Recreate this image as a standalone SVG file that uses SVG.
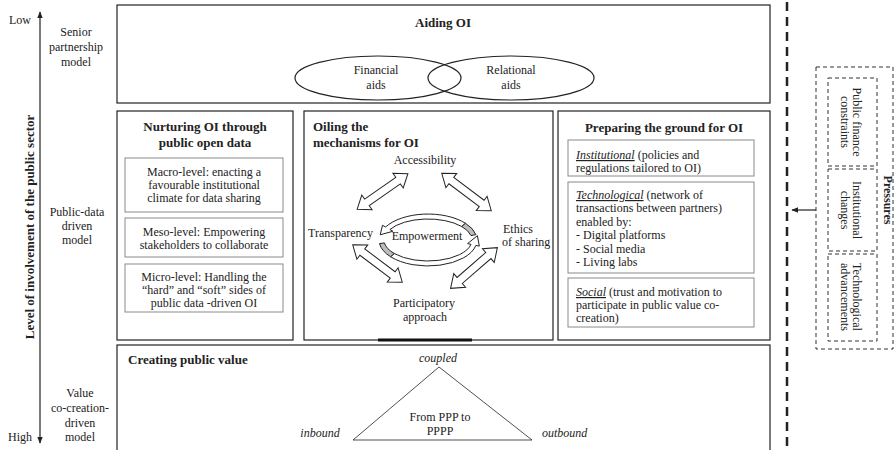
<svg xmlns="http://www.w3.org/2000/svg" xmlns:xlink="http://www.w3.org/1999/xlink" width="894" height="450" viewBox="0 0 894 450">
<style>
.t{font-family:"Liberation Serif","Times New Roman",serif;font-size:12px;fill:#222}
.b{font-weight:bold;font-size:13px}
.i{font-style:italic}
.u{font-style:italic;text-decoration:underline}
.m{text-anchor:middle}
.box{fill:#fff;stroke:#222;stroke-width:1.2}
.sub{fill:none;stroke:#8a8a8a;stroke-width:1}
.dash{fill:none;stroke:#333;stroke-width:1;stroke-dasharray:4 3}
.arr{fill:#fff;stroke:#222;stroke-width:1}
.gray{fill:#bdbdbd;stroke:#222;stroke-width:1}
.line{fill:none;stroke:#222;stroke-width:1.2}
</style>
<defs>
<marker id="ah" viewBox="0 0 10 10" refX="9" refY="5" markerWidth="7" markerHeight="7" orient="auto-start-reverse" markerUnits="userSpaceOnUse">
<path d="M0,1 L10,5 L0,9 Z" fill="#222"/>
</marker>
<polygon id="dbl" points="-31,0 -19,-9 -19,-4 19,-4 19,-9 31,0 19,9 19,4 -19,4 -19,9"/>
</defs>
<rect width="894" height="450" fill="#fff"/>

<g id="axis">
<line class="line" x1="40" y1="12" x2="40" y2="443" marker-start="url(#ah)" marker-end="url(#ah)"/>
<text class="t" x="20" y="24" text-anchor="middle">Low</text>
<text class="t" x="20" y="441" text-anchor="middle">High</text>
<text class="t b" transform="translate(34,227) rotate(-90)" text-anchor="middle">Level of involvement of the public sector</text>
</g>

<g id="models">
<text class="t m" x="76" y="36">Senior</text>
<text class="t m" x="76" y="51">partnership</text>
<text class="t m" x="76" y="66">model</text>
<text class="t m" x="77" y="216">Public-data</text>
<text class="t m" x="77" y="230">driven</text>
<text class="t m" x="77" y="244">model</text>
<text class="t m" x="80" y="397">Value</text>
<text class="t m" x="80" y="412">co-creation-</text>
<text class="t m" x="80" y="427">driven</text>
<text class="t m" x="80" y="441">model</text>
</g>

<g id="aiding">
<rect class="box" x="117" y="5" width="653" height="98"/>
<text class="t b m" x="443" y="27">Aiding OI</text>
<ellipse cx="378" cy="78" rx="83" ry="22" fill="none" stroke="#222" stroke-width="1.2"/>
<ellipse cx="511" cy="78" rx="83" ry="22" fill="none" stroke="#222" stroke-width="1.2"/>
<text class="t m" x="376" y="74">Financial</text>
<text class="t m" x="376" y="89">aids</text>
<text class="t m" x="511" y="74">Relational</text>
<text class="t m" x="511" y="89">aids</text>
</g>

<g id="nurturing">
<rect class="box" x="117" y="111" width="176" height="229"/>
<text class="t b m" x="205" y="131">Nurturing OI through</text>
<text class="t b m" x="205" y="147">public open data</text>
<rect class="sub" x="125" y="158" width="158" height="54"/>
<text class="t m" x="204" y="176">Macro-level: enacting a</text>
<text class="t m" x="204" y="189">favourable institutional</text>
<text class="t m" x="204" y="202">climate for data sharing</text>
<rect class="sub" x="125" y="218" width="158" height="39"/>
<text class="t m" x="204" y="236">Meso-level: Empowering</text>
<text class="t m" x="204" y="249">stakeholders to collaborate</text>
<rect class="sub" x="125" y="264" width="158" height="48"/>
<text class="t m" x="204" y="281">Micro-level: Handling the</text>
<text class="t m" x="204" y="294">“hard” and “soft” sides of</text>
<text class="t m" x="204" y="307">public data -driven OI</text>
</g>

<g id="oiling">
<rect class="box" x="304" y="111" width="249" height="229"/>
<text class="t b" x="313" y="131">Oiling the</text>
<text class="t b" x="313" y="147">mechanisms for OI</text>
<text class="t m" x="425" y="164">Accessibility</text>
<text class="t" x="308" y="237">Transparency</text>
<text class="t m" x="427" y="240">Empowerment</text>
<text class="t" x="503" y="233">Ethics</text>
<text class="t" x="502" y="246">of sharing</text>
<text class="t m" x="424" y="307">Participatory</text>
<text class="t m" x="425" y="321">approach</text>
<use xlink:href="#dbl" class="arr" transform="translate(382.5,191.5) rotate(-35)"/>
<use xlink:href="#dbl" class="arr" transform="translate(466.5,192) rotate(37)"/>
<use xlink:href="#dbl" class="arr" transform="translate(377.5,263.5) rotate(37)"/>
<use xlink:href="#dbl" class="arr" transform="translate(474,268) rotate(-41)"/>
<path class="arr" d="M465.5,223.3 A49,26 0 0 0 385.6,227 L382.5,225.25 L380.2,234.8 L392.9,231.25 L389.9,229.5 A44,21 0 0 1 461.7,226.5 Z"/>
<path class="gray" d="M475.9,234.6 A49,26 0 0 0 465.5,223.3 L461.7,226.5 A44,21 0 0 1 471,235.6 Z"/>
<path class="arr" d="M390.5,256.7 A49,26 0 0 0 475.9,245.4 L479.3,246.1 L477.4,235.7 L467.6,243.6 L471,244.4 A44,21 0 0 1 394.3,253.5 Z"/>
<path class="gray" d="M379.5,243.6 A49,26 0 0 0 390.5,256.7 L394.3,253.5 A44,21 0 0 1 384.4,242.9 Z"/>
</g>

<g id="preparing">
<rect class="box" x="558" y="111" width="212" height="229"/>
<text class="t b m" x="664" y="132">Preparing the ground for OI</text>
<rect class="sub" x="568" y="140" width="186" height="36"/>
<text class="t" x="576" y="159"><tspan class="u">Institutional</tspan> (policies and</text>
<text class="t" x="576" y="172">regulations tailored to OI)</text>
<rect class="sub" x="568" y="182" width="186" height="91"/>
<text class="t" x="576" y="199"><tspan class="u">Technological</tspan> (network of</text>
<text class="t" x="576" y="212">transactions between partners)</text>
<text class="t" x="576" y="226">enabled by:</text>
<text class="t" x="576" y="239">- Digital platforms</text>
<text class="t" x="576" y="253">- Social media</text>
<text class="t" x="576" y="266">- Living labs</text>
<rect class="sub" x="568" y="278" width="186" height="49"/>
<text class="t" x="576" y="296"><tspan class="u">Social</tspan> (trust and motivation to</text>
<text class="t" x="576" y="309">participate in public value co-</text>
<text class="t" x="576" y="322">creation)</text>
</g>

<g id="creating">
<rect class="box" x="117" y="345" width="653" height="110"/>
<text class="t b" x="128" y="364">Creating public value</text>
<text class="t i m" x="438" y="362">coupled</text>
<polygon points="439,367 353,440 532,440" fill="none" stroke="#222" stroke-width="0.8"/>
<text class="t m" x="440" y="421">From PPP to</text>
<text class="t m" x="440" y="435">PPPP</text>
<text class="t i m" x="320" y="437">inbound</text>
<text class="t i" x="542" y="437">outbound</text>
</g>

<g id="pressures">
<rect class="dash" x="816" y="67" width="77" height="282"/>
<rect class="dash" x="828" y="78" width="49" height="88"/>
<rect class="dash" x="828" y="169" width="49" height="82"/>
<rect class="dash" x="828" y="254" width="49" height="87"/>
<text class="t m" transform="translate(853,122) rotate(90)">Public finance</text>
<text class="t m" transform="translate(841,122) rotate(90)">constraints</text>
<text class="t m" transform="translate(853,210) rotate(90)">Institutional</text>
<text class="t m" transform="translate(841,210) rotate(90)">changes</text>
<text class="t m" transform="translate(853,297) rotate(90)">Technological</text>
<text class="t m" transform="translate(841,297) rotate(90)">advancements</text>
<text class="t b m" style="font-size:12px" transform="translate(884,200) rotate(90)">Pressures</text>
</g>

<g id="connectors">
<line x1="787" y1="2" x2="787" y2="450" stroke="#222" stroke-width="2.5" stroke-dasharray="9 6"/>
<line class="line" x1="816" y1="210" x2="792" y2="210" marker-end="url(#ah)"/>
<line x1="378" y1="340" x2="472" y2="340" stroke="#111" stroke-width="3"/>
</g>
</svg>
